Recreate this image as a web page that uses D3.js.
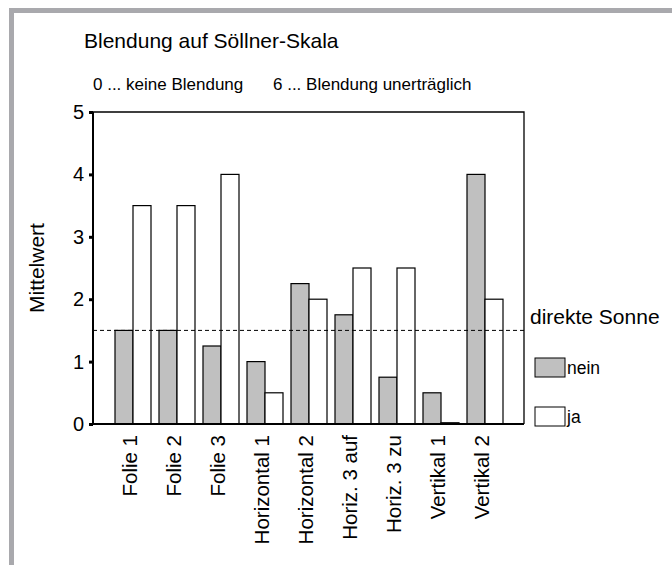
<!DOCTYPE html>
<html>
<head>
<meta charset="utf-8">
<script src="https://cdn.jsdelivr.net/npm/d3@7"></script>
<style>
  body { margin: 0; background: #fff; }
  svg text { font-family: "Liberation Sans", Arial, sans-serif; fill: #000; }
</style>
</head>
<body>
<svg id="chart" width="672" height="565"></svg>
<script>
// values
var categories = ["Folie 1", "Folie 2", "Folie 3", "Horizontal 1", "Horizontal 2",
                  "Horiz. 3 auf", "Horiz. 3 zu", "Vertikal 1", "Vertikal 2"];
var nein = [1.5, 1.5, 1.25, 1.0, 2.25, 1.75, 0.75, 0.5, 4.0];
var ja   = [3.5, 3.5, 4.0, 0.5, 2.0, 2.5, 2.5, 0.02, 2.0];
var series = ["nein", "ja"];
var yTicks = [0, 1, 2, 3, 4, 5];
var refLine = 1.5;

var svg = d3.select("#chart");
var plot = {left: 93, right: 524, top: 112, bottom: 424};
var font = "'Liberation Sans', Arial, sans-serif";

// grey frame (top + left only)
svg.append("rect").attr("x", 9).attr("y", 8).attr("width", 663).attr("height", 5).attr("fill", "#a9a9ad");
svg.append("rect").attr("x", 9).attr("y", 8).attr("width", 5).attr("height", 557).attr("fill", "#a9a9ad");

var y = d3.scaleLinear().domain([0, 5]).range([plot.bottom, plot.top]);
var x = d3.scaleBand().domain(categories).range([111, 507])
    .paddingInner(8 / 44).paddingOuter(4 / 44);
var xs = d3.scaleBand().domain(series).range([0, x.bandwidth()]);
var fill = d3.scaleOrdinal().domain(series).range(["#c0c0c0", "#ffffff"]);

var data = categories.map(function(c, i) {
  return {cat: c, vals: [{s: "nein", v: nein[i]}, {s: "ja", v: ja[i]}]};
});

// titles
svg.append("text").attr("x", 84).attr("y", 48).style("font-size", "21px")
  .text("Blendung auf Söllner-Skala");
svg.append("text").attr("x", 93).attr("y", 90).style("font-size", "17px")
  .text("0 ... keine Blendung");
svg.append("text").attr("x", 273).attr("y", 90).style("font-size", "17px")
  .text("6 ... Blendung unerträglich");

// plot box top + right
svg.append("path")
  .attr("d", "M" + plot.left + "," + plot.top + "H" + plot.right + "V" + plot.bottom)
  .attr("fill", "none").attr("stroke", "#000").attr("stroke-width", 1.3);

// bars
var groups = svg.selectAll(".grp").data(data).enter().append("g")
  .attr("class", "grp")
  .attr("transform", function(d) { return "translate(" + x(d.cat) + ",0)"; });

groups.selectAll("rect").data(function(d) { return d.vals; }).enter().append("rect")
  .attr("x", function(d) { return xs(d.s); })
  .attr("width", xs.bandwidth())
  .attr("y", function(d) { return y(d.v); })
  .attr("height", function(d) { return y(0) - y(d.v); })
  .attr("fill", function(d) { return fill(d.s); })
  .attr("stroke", "#000").attr("stroke-width", 1.2);

// reference line
svg.append("line")
  .attr("x1", plot.left).attr("x2", plot.right)
  .attr("y1", y(refLine)).attr("y2", y(refLine))
  .attr("stroke", "#000").attr("stroke-width", 1)
  .attr("stroke-dasharray", "4,3");

// y axis
var yAxis = svg.append("g")
  .attr("transform", "translate(" + plot.left + ",0)")
  .call(d3.axisLeft(y).tickValues(yTicks).tickFormat(d3.format("d")).tickSize(4).tickPadding(5));
yAxis.select(".domain").attr("stroke-width", 2).attr("d", "M0," + plot.top + "V" + plot.bottom);
yAxis.selectAll(".tick line").attr("stroke-width", 3);
yAxis.selectAll("text").style("font-size", "20px").style("font-family", font);

// x axis
var xAxis = svg.append("g")
  .attr("transform", "translate(0," + plot.bottom + ")")
  .call(d3.axisBottom(x).tickSize(0).tickPadding(0));
xAxis.select(".domain").attr("stroke-width", 2).attr("d", "M" + plot.left + ",0H" + plot.right);
xAxis.selectAll("text")
  .style("font-size", "20.5px").style("font-family", font)
  .attr("text-anchor", "end")
  .attr("dy", "0.35em")
  .attr("transform", "translate(-3,11) rotate(-90)")
  .attr("y", 0).attr("x", 0);

// y label
svg.append("text")
  .attr("transform", "translate(44,268) rotate(-90)")
  .attr("text-anchor", "middle").style("font-size", "21px")
  .text("Mittelwert");

// legend
svg.append("text").attr("x", 530).attr("y", 324).style("font-size", "21px").text("direkte Sonne");
var leg = svg.selectAll(".leg").data(series).enter().append("g")
  .attr("class", "leg")
  .attr("transform", function(d, i) { return "translate(535," + (358 + i * 49) + ")"; });
leg.append("rect").attr("width", 30).attr("height", 19)
  .attr("fill", function(d) { return fill(d); })
  .attr("stroke", "#000").attr("stroke-width", 1);
leg.append("text").attr("x", 32).attr("y", 16).style("font-size", "17.5px")
  .text(function(d) { return d; });
</script>
</body>
</html>
